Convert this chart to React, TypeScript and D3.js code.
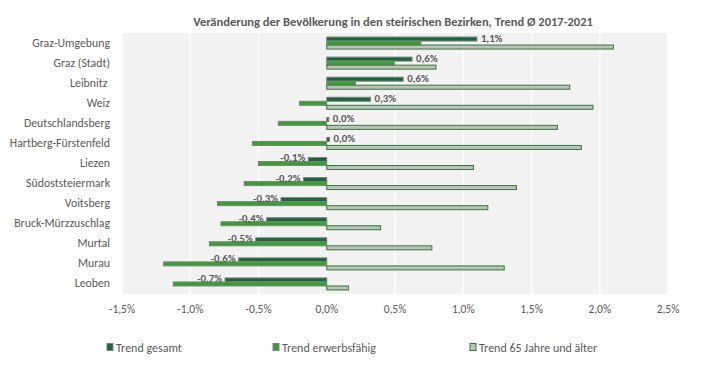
import React from 'react';
import * as d3 from 'd3';

const categories = [
  'Graz-Umgebung', 'Graz (Stadt)', 'Leibnitz ', 'Weiz', 'Deutschlandsberg',
  'Hartberg-Fürstenfeld', 'Liezen', 'Südoststeiermark', 'Voitsberg',
  'Bruck-Mürzzuschlag', 'Murtal', 'Murau', 'Leoben',
];
const trendGesamt = [1.1, 0.625, 0.56, 0.32, 0.015, 0.02, -0.135, -0.17, -0.335, -0.44, -0.52, -0.645, -0.745];
const trendErwerb = [0.69, 0.495, 0.21, -0.2, -0.355, -0.545, -0.5, -0.605, -0.8, -0.775, -0.86, -1.195, -1.125];
const trend65 = [2.1, 0.8, 1.78, 1.95, 1.69, 1.865, 1.075, 1.39, 1.18, 0.395, 0.77, 1.3, 0.16];
const xTicks = [-1.5, -1.0, -0.5, 0, 0.5, 1.0, 1.5, 2.0, 2.5];
const seriesNames = ['Trend gesamt', 'Trend erwerbsfähig', 'Trend 65 Jahre und älter'];

const W = 709;
const H = 369;
const font = 'Carlito, Calibri, Lato, sans-serif';
const txt = '#595959';

const fills = ['#17673a', '#35a22f', '#bfbfbf'];
const strokes = ['#808080', '#808080', '#2f7d2f'];

const fmt = (v: number, d: number) => v.toFixed(d).replace('.', ',') + '%';

export default function App() {
  const x = d3.scaleLinear().domain([-1.5, 2.5]).range([122, 668]);
  const y = d3.scaleBand<string>().domain(categories).range([33, 294]).paddingInner(0.4).paddingOuter(0.2);
  const sub = d3.scaleBand<number>().domain([0, 1, 2]).range([0, y.bandwidth()]);
  const series = [trendGesamt, trendErwerb, trend65];
  const legendX = [107, 273, 470];

  return (
    <svg width={W} height={H} style={{ position: 'absolute', left: 0, top: 0, background: '#fff' }} fontFamily={font}>
      <text x={393} y={26} textAnchor="middle" fontSize={12.5} fontWeight="bold" fill={txt}>
        Veränderung der Bevölkerung in den steirischen Bezirken, Trend Ø 2017-2021
      </text>
      <rect x={x(-1.5)} y={33} width={x(2.5) - x(-1.5)} height={261} fill="#f2f2f2" />
      {xTicks.map(t => (
        <g key={t}>
          <line x1={x(t)} x2={x(t)} y1={33} y2={294} stroke="#fff" strokeWidth={1.5} />
          <text x={x(t)} y={313} textAnchor="middle" fontSize={11.5} fill={txt}>{fmt(t, 1)}</text>
        </g>
      ))}
      {categories.map((c, i) => (
        <g key={c}>
          <text x={110} y={y(c)! + y.bandwidth() / 2 + 3.5} textAnchor="end" fontSize={11.8} fill={txt} style={{ whiteSpace: 'pre' }}>{c}</text>
          {series.map((s, k) => {
            const v = s[i];
            const y0 = y(c)! + sub(k)!;
            return (
              <rect key={k} x={Math.min(x(0), x(v))} y={y0} width={Math.abs(x(v) - x(0))} height={sub.bandwidth()}
                fill={fills[k]} stroke={strokes[k]} strokeWidth={1} />
            );
          })}
          {(() => {
            const v = trendGesamt[i];
            const yy = y(c)! + sub(0)! + sub.bandwidth() / 2 + 3;
            return v >= 0
              ? <text x={x(v) + 4} y={yy} fontSize={10.8} fontWeight="bold" fill={txt}>{fmt(v, 1)}</text>
              : <text x={x(v) - 3} y={yy - 1} textAnchor="end" fontSize={10.8} fontWeight="bold" fill={txt}>{fmt(v, 1)}</text>;
          })()}
        </g>
      ))}
      {seriesNames.map((n, k) => (
        <g key={n}>
          <rect x={legendX[k]} y={343.5} width={6} height={7} fill={fills[k]} stroke={strokes[k]} strokeWidth={1} />
          <text x={legendX[k] + 9} y={351.5} fontSize={12} fill={txt}>{n}</text>
        </g>
      ))}
    </svg>
  );
}
